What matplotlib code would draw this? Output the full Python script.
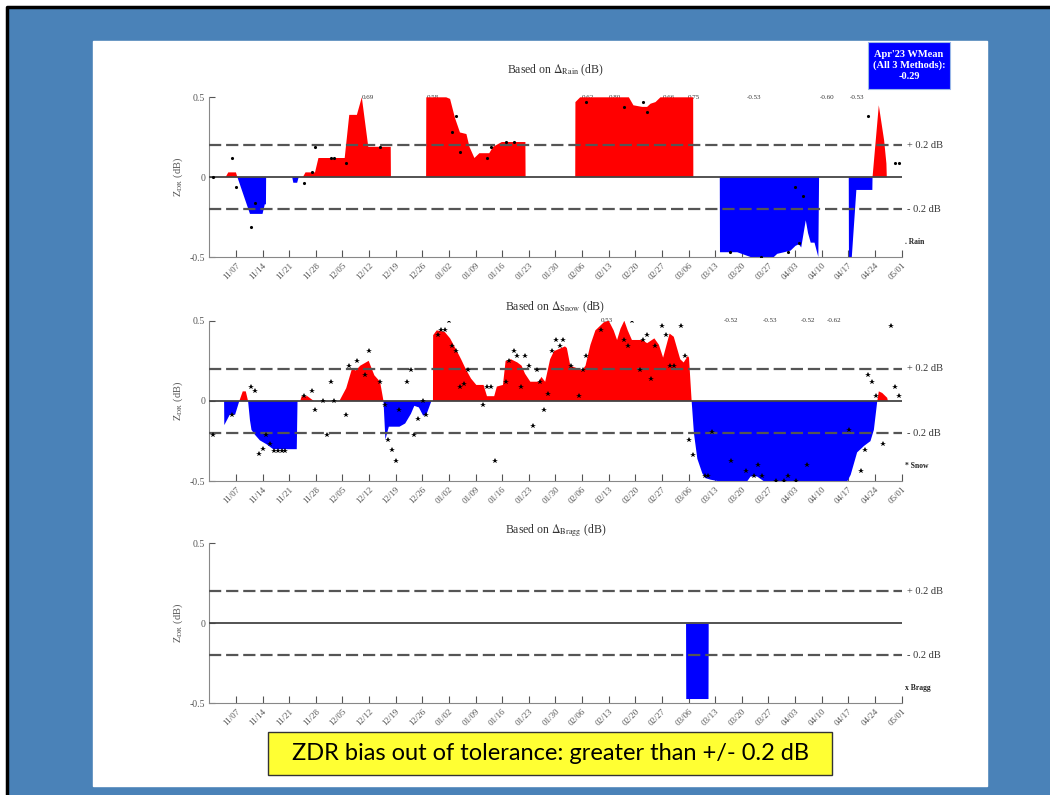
import numpy as np
import matplotlib
matplotlib.use("Agg")
import matplotlib.pyplot as plt
import matplotlib.dates as mdates
from matplotlib.patches import Rectangle
from matplotlib.lines import Line2D

# day offsets are counted from START; NaN rows split the filled areas
START = "2022-10-31"
N_DAYS = 182
TICK_DAYS = np.arange(7, 183, 7)   # Mondays 11/07 .. 05/01
NAN = (np.nan, np.nan)

rain_fill = [
    (4.3, 0), (5.0, 0.03), (7.0, 0.03), (7.4, 0), (10.7, -0.23), (14.0, -0.23),
    (14.6, -0.17), (14.9, -0.17), (14.95, 0), NAN,
    (21.8, 0), (22.1, -0.035), (23.1, -0.035), (23.5, 0), NAN,
    (24.6, 0), (25.3, 0.03), (27.8, 0.03), (28.7, 0.12), (35.6, 0.12), (36.8, 0.39),
    (38.8, 0.39), (40.1, 0.5), (41.8, 0.19), (47.7, 0.19), (47.75, 0), NAN,
    (57.0, 0), (57.05, 0.5), (62.3, 0.5), (63.3, 0.49), (64.6, 0.37), (65.9, 0.28),
    (67.6, 0.27), (68.4, 0.19), (69.7, 0.12), (71.0, 0.15), (73.6, 0.15), (74.6, 0.19),
    (76.9, 0.22), (83.1, 0.22), (83.15, 0), NAN,
    (96.2, 0), (96.25, 0.47), (97.5, 0.5), (110.3, 0.5), (111.5, 0.45), (113.8, 0.44),
    (115.1, 0.44), (116.0, 0.46), (117.3, 0.47), (118.6, 0.5), (127.2, 0.5),
    (127.25, 0), NAN,
    (134.2, 0), (134.25, -0.47), (138.8, -0.47), (142.3, -0.5), (148.4, -0.5),
    (149.3, -0.48), (151.1, -0.47), (152.8, -0.46), (154.1, -0.43), (155.0, -0.42),
    (155.6, -0.44), (156.8, -0.27), (157.4, -0.35), (158.1, -0.41), (159.1, -0.41),
    (160.1, -0.5), (160.3, 0), NAN,
    (168.1, 0), (168.15, -0.5), (168.9, -0.5), (170.1, -0.08), (174.3, -0.08),
    (174.35, 0), (176.0, 0.45), (177.4, 0.23), (178.0, 0.085), (178.1, 0),
]
rain_dots = [
    (0.9, 0.0), (5.9, 0.12), (7.0, -0.06), (10.9, -0.31), (12.0, -0.16),
    (24.9, -0.035), (26.9, 0.03), (27.9, 0.19), (31.9, 0.12), (32.9, 0.12),
    (36.0, 0.09), (44.9, 0.19), (63.9, 0.28), (64.9, 0.38), (66.0, 0.16),
    (73.0, 0.12), (74.0, 0.19), (78.0, 0.22), (80.0, 0.22), (99.1, 0.47),
    (109.1, 0.44), (114.0, 0.47), (115.1, 0.41), (137.0, -0.47), (145.1, -0.5),
    (152.1, -0.47), (154.1, -0.06), (155.0, -0.41), (156.1, -0.12), (173.1, 0.38),
    (180.2, 0.09), (181.3, 0.09),
]
rain_notes = [
    (41.6, "0.69"), (58.7, "0.58"), (99.6, "0.62"), (106.7, "0.80"), (120.7, "0.66"),
    (127.5, "0.75"), (143.2, "-0.53"), (162.4, "-0.60"), (170.2, "-0.53"),
]

snow_fill = [
    (3.9, 0), (3.95, -0.15), (5.4, -0.085), (6.8, -0.085), (7.9, 0), (8.8, 0.06),
    (9.6, 0.06), (10.2, 0), (10.7, -0.12), (11.1, -0.18), (12.0, -0.21),
    (13.3, -0.245), (15.1, -0.27), (16.8, -0.3), (23.0, -0.3), (23.2, 0), NAN,
    (23.9, 0), (24.3, 0.03), (25.8, 0.03), (27.5, 0), NAN,
    (34.2, 0), (36.0, 0.08), (37.5, 0.2), (38.5, 0.19), (39.7, 0.22), (41.9, 0.25),
    (43.4, 0.16), (44.9, 0.12), (45.8, 0), (46.3, -0.24), (47.2, -0.16), (50.0, -0.16),
    (51.5, -0.14), (53.0, -0.08), (53.9, -0.03), (55.1, -0.04), (56.2, -0.09),
    (57.0, -0.09), (58.4, 0), (58.8, 0), (58.85, 0.41), (59.8, 0.44), (61.9, 0.43),
    (63.3, 0.39), (64.9, 0.32), (66.2, 0.26), (67.4, 0.2), (68.8, 0.14), (70.2, 0.1),
    (72.1, 0.1), (73.0, 0.03), (74.9, 0.03), (75.6, 0.09), (77.2, 0.1), (77.9, 0.25),
    (79.3, 0.26), (81.0, 0.24), (82.1, 0.22), (83.0, 0.17), (84.4, 0.12), (86.6, 0.12),
    (87.3, 0.15), (88.3, 0.12), (89.6, 0.26), (90.6, 0.31), (93.5, 0.34), (94.0, 0.33),
    (94.9, 0.22), (97.1, 0.2), (98.0, 0.19), (98.9, 0.22), (100.2, 0.35), (101.5, 0.44),
    (103.7, 0.49), (105.0, 0.5), (106.3, 0.44), (107.2, 0.38), (108.1, 0.45),
    (109.1, 0.5), (110.0, 0.44), (111.1, 0.38), (113.8, 0.38), (115.1, 0.36),
    (117.0, 0.39), (118.2, 0.35), (119.3, 0.27), (121.0, 0.42), (122.1, 0.4),
    (123.8, 0.26), (124.7, 0.24), (125.8, 0.28), (126.1, 0.27), (126.8, 0),
    (127.4, -0.2), (128.3, -0.36), (129.6, -0.45), (130.4, -0.48), (131.8, -0.49),
    (134.0, -0.5), (141.4, -0.5), (142.3, -0.47), (144.0, -0.47), (145.8, -0.5),
    (167.7, -0.5), (168.6, -0.46), (170.3, -0.32), (172.1, -0.28), (173.8, -0.25),
    (174.7, -0.18), (175.6, 0), (176.0, 0.06), (176.9, 0.05), (178.2, 0.02),
    (178.4, 0),
]
snow_dots = [
    (0.9, -0.21), (5.9, -0.085), (10.9, 0.09), (12.0, 0.06), (13.0, -0.33),
    (14.0, -0.30), (14.9, -0.21), (16.0, -0.27), (17.0, -0.31), (18.1, -0.31),
    (19.0, -0.31), (20.0, -0.31), (24.9, 0.03), (26.9, 0.06), (27.9, -0.055),
    (29.9, 0.0), (31.0, -0.21), (31.9, 0.12), (32.9, 0.0), (36.0, -0.085),
    (36.8, 0.22), (38.9, 0.25), (41.0, 0.16), (42.0, 0.31), (44.9, 0.12),
    (46.1, -0.025), (46.9, -0.245), (48.0, -0.305), (49.0, -0.375), (50.0, -0.055),
    (51.9, 0.12), (53.0, 0.19), (53.9, -0.21), (55.0, -0.115), (56.1, 0.0),
    (57.0, -0.085), (60.0, 0.41), (60.9, 0.44), (61.9, 0.44), (63.0, 0.50),
    (63.9, 0.34), (64.9, 0.31), (66.0, 0.09), (67.0, 0.105), (68.0, 0.19),
    (71.9, -0.025), (73.0, 0.09), (74.0, 0.09), (75.0, -0.375), (78.0, 0.12),
    (78.9, 0.25), (80.0, 0.31), (81.0, 0.28), (82.0, 0.09), (83.0, 0.28),
    (84.0, 0.22), (85.0, -0.155), (86.1, 0.19), (87.0, 0.12), (88.1, -0.055),
    (89.0, 0.045), (90.1, 0.31), (91.1, 0.38), (92.1, 0.34), (93.1, 0.38),
    (95.1, 0.22), (97.1, 0.03), (98.2, 0.195), (99.1, 0.28), (103.1, 0.44),
    (109.1, 0.38), (110.0, 0.34), (111.1, 0.50), (113.2, 0.19), (114.1, 0.38),
    (115.1, 0.41), (116.2, 0.14), (117.1, 0.34), (119.1, 0.47), (120.1, 0.41),
    (121.0, 0.22), (122.1, 0.22), (124.1, 0.47), (125.1, 0.28), (126.1, -0.245),
    (127.1, -0.335), (130.2, -0.465), (131.2, -0.465), (132.2, -0.19),
    (137.2, -0.375), (141.1, -0.435), (143.2, -0.465), (144.2, -0.40),
    (145.2, -0.465), (149.1, -0.5), (151.2, -0.5), (152.2, -0.465), (154.2, -0.5),
    (157.2, -0.40), (168.2, -0.18), (171.2, -0.435), (172.3, -0.305), (173.1, 0.16),
    (174.1, 0.12), (175.2, 0.03), (177.2, -0.27), (179.2, 0.47), (180.2, 0.09),
    (181.3, 0.03),
]
snow_notes = [
    (104.5, "0.53"), (137.2, "-0.52"), (147.3, "-0.53"), (157.4, "-0.52"), (164.2, "-0.62"),
]

bragg_fill = [(125.2, 0), (125.25, -0.47), (131.1, -0.47), (131.15, 0)]
bragg_dots = []
bragg_notes = []

plt.rcParams["font.family"] = ["Liberation Serif", "DejaVu Serif"]
plt.rcParams["mathtext.fontset"] = "stix"

base = mdates.datestr2num(START)
fig = plt.figure(figsize=(10.5, 7.95), dpi=100)

# slide background: blue field with black edge and a white panel
fig.patches.append(Rectangle((8 / 1050, 0), 1, 1 - 8 / 795, transform=fig.transFigure,
                             color="#4a82b8", zorder=-3))
fig.lines.append(Line2D([6.5 / 1050, 6.5 / 1050, 1], [0, 1 - 6.5 / 795, 1 - 6.5 / 795],
                        transform=fig.transFigure, color="black", lw=2.5, zorder=-2))
fig.patches.append(Rectangle((93.3 / 1050, 1 - 786 / 795), 893.4 / 1050, 745.3 / 795,
                             transform=fig.transFigure, color="white", zorder=-1))


def draw_panel(rect, fill, dots, marker, msize, notes, name, tag, title_y):
    ax = fig.add_axes(rect)
    arr = np.array(fill, dtype=float)
    x = base + arr[:, 0]
    y = arr[:, 1]
    ax.fill_between(x, 0, y, where=y >= 0, interpolate=True, color="#ff0000", lw=0, zorder=2)
    ax.fill_between(x, 0, y, where=y <= 0, interpolate=True, color="#0000ff", lw=0, zorder=2)
    for lvl in (0.2, -0.2):
        ax.axhline(lvl, color="#555555", lw=1.6, ls=(0, (5.5, 2.2)), zorder=3)
    ax.axhline(0, color="#444444", lw=1.3, zorder=3)
    if dots:
        d = np.array(dots)
        ax.plot(base + d[:, 0], d[:, 1], ls="none", marker=marker, ms=msize,
                color="black", mew=0, zorder=4)
    for day, txt in notes:
        ax.text(base + day, 0.5, txt, fontsize=5, color="#333333",
                ha="center", va="center", zorder=1)

    ax.set_xlim(base, base + N_DAYS)
    ax.set_ylim(-0.5, 0.5)
    ax.set_yticks([-0.5, 0, 0.5])
    ax.set_yticklabels(["-0.5", "0", "0.5"])
    ax.set_xticks(base + TICK_DAYS)
    ax.xaxis.set_major_formatter(mdates.DateFormatter("%m/%d"))
    ax.tick_params(axis="y", direction="in", length=4, labelsize=7,
                   colors="#555555", pad=3)
    ax.tick_params(axis="x", direction="in", length=5, labelsize=6.5,
                   colors="#555555", pad=3)
    for lab in ax.get_xticklabels():
        lab.set_rotation(45)
        lab.set_ha("right")
        lab.set_rotation_mode("anchor")
    for side in ("top", "right"):
        ax.spines[side].set_visible(False)
    for side in ("left", "bottom"):
        ax.spines[side].set_color("#888888")
    ax.patch.set_alpha(0)

    ax.set_ylabel(r"Z$_{\rm DR}$ (dB)", fontsize=7.5, color="#555555")
    ax.yaxis.set_label_coords(-0.035, 0.5)
    ax.text(0.5, title_y, r"Based on $\Delta_{\rm %s}$ (dB)" % name, transform=ax.transAxes,
            fontsize=8.5, color="#333333", ha="center", va="center")
    yt = ax.get_yaxis_transform()
    ax.text(1.008, 0.2, "+ 0.2 dB", transform=yt, fontsize=7.5, color="#333333", va="center")
    ax.text(1.008, -0.2, "- 0.2 dB", transform=yt, fontsize=7.5, color="#333333", va="center")
    ax.text(1.005, -0.405, tag, transform=yt, fontsize=5.5, fontweight="bold",
            color="#222222", va="center")
    return ax


draw_panel([0.1993, 0.6767, 0.6594, 0.2009], rain_fill, rain_dots, ".", 4.5, rain_notes,
           "Rain", ". Rain", 1.167)
draw_panel([0.1993, 0.3946, 0.6594, 0.2020], snow_fill, snow_dots, "*", 4.2, snow_notes,
           "Snow", "* Snow", 1.085)
draw_panel([0.1993, 0.1153, 0.6594, 0.2013], bragg_fill, bragg_dots, "x", 4, bragg_notes,
           "Bragg", "x Bragg", 1.079)

# monthly weighted-mean box
fig.patches.append(Rectangle((868 / 1050, 1 - 89.3 / 795), 82 / 1050, 47.6 / 795,
                             transform=fig.transFigure, facecolor="#0000ff",
                             edgecolor="#9ab8e8", lw=0.8, zorder=5))
fig.text(909 / 1050, 1 - 65.5 / 795, "Apr'23 WMean\n(All 3 Methods):\n-0.29",
         color="white", fontsize=7.5, fontweight="bold", ha="center", va="center",
         linespacing=1.25, zorder=6)

# tolerance banner
fig.patches.append(Rectangle((268 / 1050, 1 - 775 / 795), 564 / 1050, 43 / 795,
                             transform=fig.transFigure, facecolor="#ffff33",
                             edgecolor="#333333", lw=1, zorder=5))
fig.text(550 / 1050, 1 - 754 / 795, "ZDR bias out of tolerance: greater than +/- 0.2 dB",
         family="Lato", fontsize=17, color="black", ha="center", va="center", zorder=6)

fig.savefig("out.png", dpi=100)
